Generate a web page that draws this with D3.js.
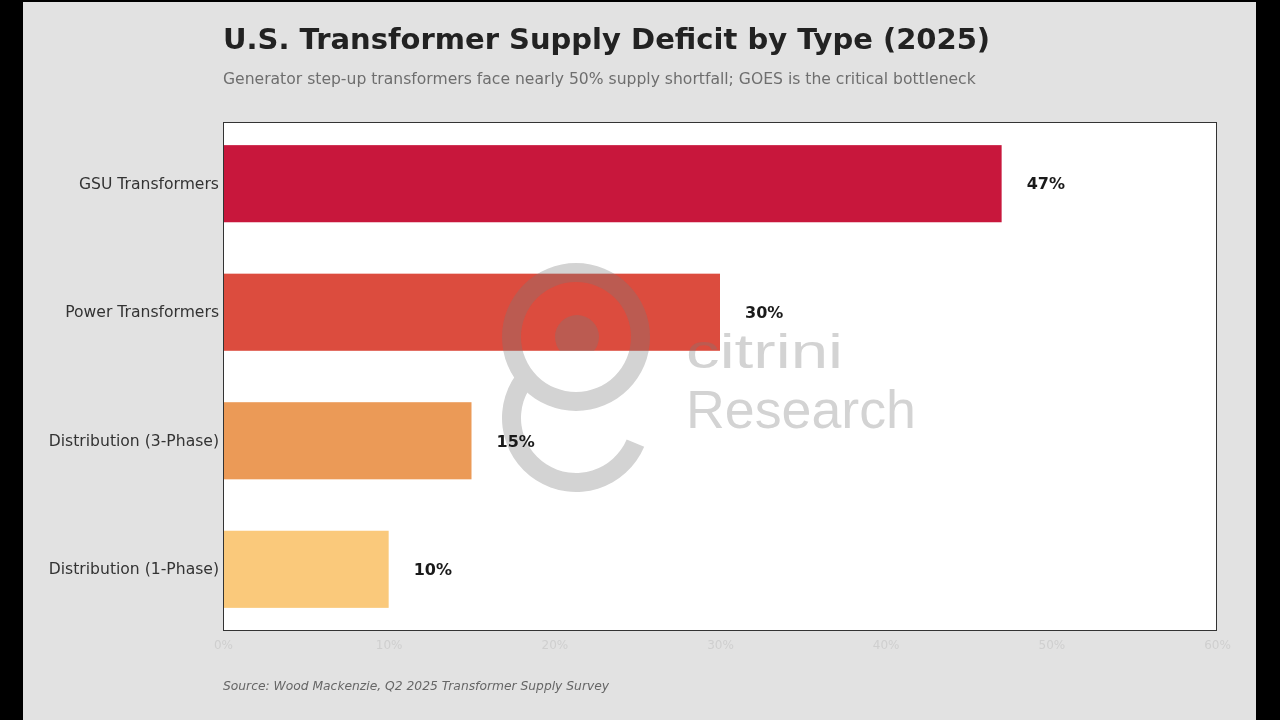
<!DOCTYPE html>
<html>
<head>
<meta charset="utf-8">
<script src="https://cdn.jsdelivr.net/npm/d3@7"></script>
<style>
  html, body { margin: 0; padding: 0; background: #000; }
  svg { display: block; }
</style>
</head>
<body>
<svg id="chart" width="1280" height="720"></svg>
<script>
// ---- data ----
const categories = ["GSU Transformers", "Power Transformers", "Distribution (3-Phase)", "Distribution (1-Phase)"];
const deficits = [47, 30, 15, 10];
const xTicks = [0, 10, 20, 30, 40, 50, 60];
const xTickLabels = ["0%", "10%", "20%", "30%", "40%", "50%", "60%"];
const titleText = "U.S. Transformer Supply Deficit by Type (2025)";
const subtitleText = "Generator step-up transformers face nearly 50% supply shortfall; GOES is the critical bottleneck";
const sourceText = "Source: Wood Mackenzie, Q2 2025 Transformer Supply Survey";

// ---- style ----
const barColors = ["#c8173c", "#dc4c3e", "#eb9a57", "#fac97b"];
const margin = { left: 223, right: 1217, top: 122, bottom: 631 };

const svg = d3.select("#chart");

// figure background (dithered light gray in reference)
svg.append("rect").attr("x", 23).attr("y", 2).attr("width", 1233).attr("height", 718).attr("fill", "#e2e2e2");

// plot area
svg.append("rect")
  .attr("x", margin.left).attr("y", margin.top)
  .attr("width", margin.right - margin.left).attr("height", margin.bottom - margin.top)
  .attr("fill", "#ffffff");

const x = d3.scaleLinear().domain([0, 60]).range([margin.left, margin.right]);
const y = d3.scaleBand().domain(categories).range([margin.top, margin.bottom])
  .paddingInner(0.4).paddingOuter(0.18);

// bars
svg.append("g").selectAll("rect")
  .data(categories)
  .join("rect")
  .attr("x", x(0))
  .attr("y", d => y(d))
  .attr("width", (d, i) => x(deficits[i]) - x(0))
  .attr("height", y.bandwidth())
  .attr("fill", (d, i) => barColors[i]);

// watermark (semi-transparent, drawn above bars)
const defs = svg.append("defs");
defs.append("clipPath").attr("id", "headClip")
  .append("rect").attr("x", 540).attr("y", 300).attr("width", 80).attr("height", 51);

const wm = svg.append("g").attr("opacity", 0.33).attr("fill", "#7a7a7a");
const cx = 576, cy = 337;
wm.append("path")
  .attr("transform", `translate(${cx},${cy})`)
  .attr("d", d3.arc()({ innerRadius: 55, outerRadius: 74, startAngle: 0, endAngle: 2 * Math.PI }));
wm.append("path")
  .attr("transform", `translate(${cx},${cy + 81})`)
  .attr("d", d3.arc()({ innerRadius: 55, outerRadius: 74, startAngle: 1.97, endAngle: 5.45 }));
wm.append("circle")
  .attr("cx", cx + 1).attr("cy", cy).attr("r", 22)
  .attr("clip-path", "url(#headClip)");
wm.append("text")
  .attr("x", 686).attr("y", 368)
  .attr("font-family", "Liberation Sans, Arial, sans-serif")
  .attr("font-size", 48)
  .attr("textLength", 157).attr("lengthAdjust", "spacingAndGlyphs")
  .text("citrini");
wm.append("text")
  .attr("x", 686).attr("y", 428)
  .attr("font-family", "Liberation Sans, Arial, sans-serif")
  .attr("font-size", 54)
  .attr("textLength", 230).attr("lengthAdjust", "spacingAndGlyphs")
  .text("Research");

// frame
svg.append("rect")
  .attr("x", margin.left + 0.5).attr("y", margin.top + 0.5)
  .attr("width", margin.right - margin.left - 1).attr("height", margin.bottom - margin.top - 1)
  .attr("fill", "none").attr("stroke", "#333").attr("stroke-width", 1);

// value labels
svg.append("g").selectAll("text")
  .data(categories)
  .join("text")
  .attr("x", (d, i) => x(deficits[i]) + 25)
  .attr("y", d => y(d) + y.bandwidth() / 2)
  .attr("dy", "0.36em")
  .attr("font-family", "DejaVu Sans, sans-serif")
  .attr("font-weight", "bold")
  .attr("font-size", 16)
  .attr("fill", "#1a1a1a")
  .text((d, i) => deficits[i] + "%");

// y axis
const yAxis = d3.axisLeft(y).tickSize(0).tickPadding(4);
const yg = svg.append("g").attr("transform", `translate(${margin.left},0)`).call(yAxis);
yg.select(".domain").remove();
yg.selectAll("text")
  .attr("font-family", "DejaVu Sans, sans-serif")
  .attr("font-size", 15.6)
  .attr("fill", "#333");

// x axis (very faint labels)
const xAxis = d3.axisBottom(x).tickValues(xTicks).tickFormat((d, i) => xTickLabels[i]).tickSize(0).tickPadding(9);
const xg = svg.append("g").attr("transform", `translate(0,${margin.bottom})`).call(xAxis);
xg.select(".domain").remove();
xg.selectAll("text")
  .attr("font-family", "DejaVu Sans, sans-serif")
  .attr("font-size", 12)
  .attr("fill", "#cfcfcf");

// title, subtitle, source
svg.append("text")
  .attr("x", 223).attr("y", 49)
  .attr("font-family", "DejaVu Sans, sans-serif")
  .attr("font-weight", "bold")
  .attr("font-size", 29)
  .attr("fill", "#222")
  .text(titleText);
svg.append("text")
  .attr("x", 223).attr("y", 84)
  .attr("font-family", "DejaVu Sans, sans-serif")
  .attr("font-size", 15.6)
  .attr("fill", "#6e6e6e")
  .text(subtitleText);
svg.append("text")
  .attr("x", 223).attr("y", 690)
  .attr("font-family", "DejaVu Sans, sans-serif")
  .attr("font-style", "italic")
  .attr("font-size", 12.3)
  .attr("fill", "#666")
  .text(sourceText);
</script>
</body>
</html>
